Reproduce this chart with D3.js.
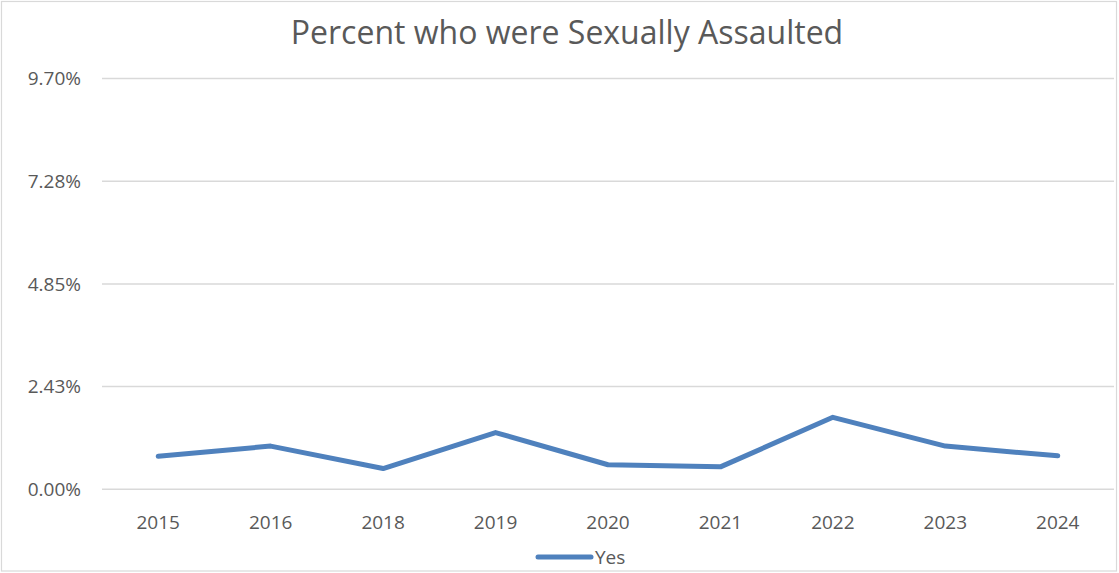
<!DOCTYPE html>
<html>
<head>
<meta charset="utf-8">
<script src="https://cdn.jsdelivr.net/npm/d3@7"></script>
<style>
  body { margin: 0; background: #fff; }
  svg text { font-family: "Open Sans", "Noto Sans", sans-serif; fill: #595959; }
</style>
</head>
<body>
<div id="chart"></div>
<script>
const years = ["2015", "2016", "2018", "2019", "2020", "2021", "2022", "2023", "2024"];
const yesValues = [0.78, 1.02, 0.49, 1.34, 0.58, 0.53, 1.70, 1.02, 0.79];
const yTicks = [0, 2.425, 4.85, 7.275, 9.70];
const yTickLabels = ["0.00%", "2.43%", "4.85%", "7.28%", "9.70%"];

const W = 1119, H = 573;
const margin = { top: 78.5, right: 5, bottom: 84, left: 102 };

const svg = d3.select("#chart").append("svg")
  .attr("width", W)
  .attr("height", H);

// chart border
svg.append("rect")
  .attr("x", 1.5).attr("y", 1.5)
  .attr("width", W - 4).attr("height", H - 3.5)
  .attr("fill", "#fff")
  .attr("stroke", "#d9d9d9")
  .attr("stroke-width", 1.2);

const x = d3.scaleBand()
  .domain(years)
  .range([margin.left, 1114]);

const y = d3.scaleLinear()
  .domain([0, 9.70])
  .range([489.3, margin.top]);

// gridlines
svg.selectAll(".grid")
  .data(yTicks)
  .enter().append("line")
  .attr("class", "grid")
  .attr("x1", margin.left)
  .attr("x2", 1114)
  .attr("y1", d => y(d))
  .attr("y2", d => y(d))
  .attr("stroke", "#d9d9d9")
  .attr("stroke-width", 1.5);

// y labels
svg.selectAll(".ylab")
  .data(yTicks)
  .enter().append("text")
  .attr("class", "ylab")
  .attr("x", 81)
  .attr("y", d => y(d))
  .attr("dy", "0.36em")
  .attr("text-anchor", "end")
  .style("font-size", "19px")
  .text((d, i) => yTickLabels[i]);

// x labels
svg.selectAll(".xlab")
  .data(years)
  .enter().append("text")
  .attr("class", "xlab")
  .attr("x", d => x(d) + x.bandwidth() / 2)
  .attr("y", 522)
  .attr("dy", "0.36em")
  .attr("text-anchor", "middle")
  .style("font-size", "19px")
  .text(d => d);

// line
const line = d3.line()
  .x((d, i) => x(years[i]) + x.bandwidth() / 2)
  .y(d => y(d));

svg.append("path")
  .datum(yesValues)
  .attr("d", line)
  .attr("fill", "none")
  .attr("stroke", "#4f81bd")
  .attr("stroke-width", 5)
  .attr("stroke-linejoin", "round")
  .attr("stroke-linecap", "round");

// title
svg.append("text")
  .attr("x", 567)
  .attr("y", 32)
  .attr("dy", "0.36em")
  .attr("text-anchor", "middle")
  .style("font-size", "32px")
  .text("Percent who were Sexually Assaulted");

// legend
svg.append("line")
  .attr("x1", 538).attr("x2", 591)
  .attr("y1", 557).attr("y2", 557)
  .attr("stroke", "#4f81bd")
  .attr("stroke-width", 5)
  .attr("stroke-linecap", "round");

svg.append("text")
  .attr("x", 595)
  .attr("y", 557)
  .attr("dy", "0.36em")
  .style("font-size", "19px")
  .text("Yes");
</script>
</body>
</html>
